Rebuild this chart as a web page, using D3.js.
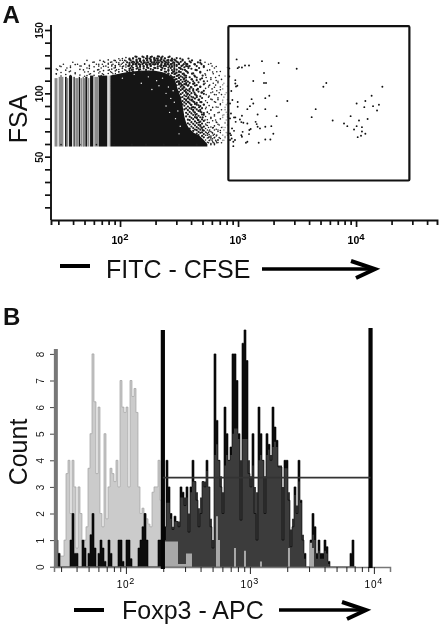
<!DOCTYPE html>
<html>
<head>
<meta charset="utf-8">
<script src="https://cdn.jsdelivr.net/npm/d3@7"></script>
<style>
    body { margin: 0; background: #fff; }
    svg { display: block; font-family: "Liberation Sans", Arial, sans-serif; filter: blur(0.35px); }
</style>
</head>
<body>
<svg id="chart" width="441" height="628"></svg>
<script>
// panel A: the solid cloud, log10(FITC) against FSA
const coreLog = [1.918, 2.085, 2.25, 2.34, 2.42, 2.466, 2.49, 2.525, 2.55, 2.6, 2.68, 2.74];
const coreTop = [114, 117, 118, 117, 114, 110, 103, 93, 80, 71, 66, 60];
const coreBottom = 58;

// panel A: single channels at the low end of the cloud (log10 from, log10 to, grey or black)
const stripeFrom = [1.445, 1.48, 1.534, 1.548, 1.568, 1.599, 1.612, 1.621, 1.65, 1.664, 1.684, 1.691, 1.706, 1.729, 1.746, 1.782, 1.819, 1.901];
const stripeTo = [1.47, 1.52, 1.548, 1.562, 1.593, 1.61, 1.618, 1.647, 1.661, 1.678, 1.691, 1.703, 1.723, 1.74, 1.774, 1.816, 1.892, 1.918];
const stripeTone = ["g", "g", "k", "g", "k", "g", "k", "g", "k", "g", "k", "g", "k", "g", "k", "g", "k", "l"];
const stripeTop = [112, 113, 113, 112, 114, 113, 113, 112, 113, 112, 113, 112, 113, 112, 114, 113, 114, 114];

// panel A: scattered events round the cloud, one FSA row with its log10(FITC) readings
const fringeFsa = [129, 127.5, 126, 124.5, 123, 121.5, 120, 118.5, 117, 115.5, 114, 112.5, 111, 109.5, 108, 106.5, 105, 103.5, 102, 100.5, 99, 97, 95, 93, 91, 89, 87, 85, 83, 81, 79, 77, 75, 73, 71, 69, 67, 65, 63, 61, 59.5];
const fringeLog = [
    [2.13, 2.19, 2.27, 2.33, 2.36, 2.42],
    [2.02, 2.08, 2.11, 2.16, 2.22, 2.25, 2.29, 2.31, 2.35, 2.38, 2.44, 2.51, 2.58],
    [1.72, 1.83, 1.95, 2.0, 2.04, 2.09, 2.14, 2.17, 2.2, 2.23, 2.26, 2.3, 2.32, 2.34, 2.37, 2.4, 2.43, 2.47, 2.53, 2.61, 2.68],
    [1.6, 1.77, 1.87, 1.92, 1.97, 2.03, 2.06, 2.1, 2.12, 2.15, 2.18, 2.21, 2.24, 2.27, 2.29, 2.31, 2.33, 2.36, 2.39, 2.41, 2.45, 2.49, 2.55, 2.6, 2.66, 2.72],
    [1.52, 1.64, 1.7, 1.8, 1.85, 1.9, 1.94, 1.99, 2.01, 2.05, 2.08, 2.11, 2.13, 2.16, 2.19, 2.22, 2.25, 2.28, 2.3, 2.32, 2.35, 2.38, 2.4, 2.43, 2.46, 2.5, 2.54, 2.57, 2.63, 2.69, 2.75],
    [1.49, 1.58, 1.67, 1.74, 1.82, 1.88, 1.93, 1.96, 2.0, 2.03, 2.07, 2.1, 2.14, 2.17, 2.2, 2.23, 2.26, 2.34, 2.37, 2.39, 2.42, 2.44, 2.48, 2.52, 2.56, 2.59, 2.65, 2.71, 2.78],
    [1.55, 1.72, 1.84, 1.95, 2.02, 2.09, 2.15, 2.24, 2.3, 2.36, 2.43, 2.51, 2.58, 2.67, 2.8],
    [1.47, 1.69, 1.81, 1.91, 1.97, 2.04, 2.1, 2.16, 2.22, 2.28, 2.35, 2.41, 2.46, 2.55, 2.64, 2.76],
    [1.57, 1.73, 1.83, 1.92, 1.99, 2.06, 2.11, 2.18, 2.24, 2.39, 2.45, 2.5, 2.57, 2.68, 2.82],
    [1.46, 1.62, 1.75, 1.85, 1.94, 2.02, 2.41, 2.47, 2.54, 2.61, 2.72, 2.79],
    [1.58, 1.72, 1.84, 2.43, 2.49, 2.55, 2.63, 2.7, 2.84],
    [2.45, 2.5, 2.56, 2.65, 2.73, 2.81],
    [2.47, 2.54, 2.61, 2.68, 2.77, 2.86],
    [2.49, 2.55, 2.62, 2.71, 2.83],
    [2.5, 2.56, 2.63, 2.72, 2.79, 2.88],
    [2.52, 2.58, 2.65, 2.76, 2.81],
    [2.54, 2.6, 2.68, 2.75, 2.85],
    [2.53, 2.59, 2.66, 2.78, 2.87],
    [2.55, 2.62, 2.71, 2.82],
    [2.56, 2.63, 2.69, 2.77, 2.84, 2.9],
    [2.57, 2.64, 2.73, 2.8, 2.86],
    [2.58, 2.65, 2.75, 2.88],
    [2.56, 2.61, 2.67, 2.78, 2.83, 2.91],
    [2.58, 2.63, 2.69, 2.81, 2.87],
    [2.6, 2.65, 2.71, 2.85, 2.9],
    [2.61, 2.67, 2.73, 2.83, 2.89],
    [2.62, 2.68, 2.77, 2.86, 2.92],
    [2.63, 2.69, 2.74, 2.84, 2.9],
    [2.64, 2.71, 2.8, 2.88, 2.91],
    [2.65, 2.7, 2.77, 2.87, 2.92],
    [2.66, 2.72, 2.81, 2.9],
    [2.67, 2.74, 2.82, 2.89],
    [2.68, 2.73, 2.84, 2.91],
    [2.69, 2.75, 2.79, 2.86, 2.89],
    [2.7, 2.76, 2.8, 2.83, 2.88],
    [2.73, 2.75, 2.78, 2.85, 2.9],
    [2.74, 2.79, 2.82, 2.87, 2.91],
    [2.75, 2.77, 2.8, 2.84, 2.89],
    [2.76, 2.78, 2.81, 2.83, 2.88],
    [2.75, 2.79, 2.82, 2.86],
    [1.5, 1.66, 1.8, 1.95, 2.1, 2.22, 2.37, 2.5, 2.65, 2.77, 2.8]
];

const columnLog = [1.46, 1.5, 1.54, 1.58, 1.62, 1.66, 1.7, 1.74, 1.78, 1.82, 1.86, 1.9, 1.93, 1.96, 1.99, 2.02, 2.05, 2.08, 2.11, 2.14, 2.17, 2.2, 2.23, 2.26, 2.29, 2.32, 2.35, 2.38, 2.41, 2.44, 2.46, 2.48, 2.5, 2.515, 2.53, 2.545, 2.56, 2.575, 2.59, 2.605, 2.62, 2.635, 2.65, 2.665, 2.68, 2.695, 2.71, 2.725, 2.74, 2.755, 2.77, 2.785, 2.8, 2.815, 2.83, 2.85, 2.87, 2.89, 2.91];
const columnFsa = [
    [115.3, 119.2],
    [113.7, 116.4, 121.1],
    [114.9, 118.3],
    [113.2, 117.6, 120.4],
    [116.2, 122.7],
    [114.4, 118.9, 121.6],
    [113.5, 116.8, 123.4],
    [115.1, 119.7, 122.2],
    [114.2, 117.3, 120.9, 124.6],
    [113.6, 116.1, 118.7, 122.9],
    [114.8, 117.9, 121.3, 125.2],
    [115.7, 118.2, 120.6, 123.8, 126.4],
    [116.4, 119.1, 122.3, 124.7],
    [115.6, 117.7, 120.3, 121.9, 125.8],
    [116.9, 118.8, 122.8, 124.2, 127.3],
    [117.4, 119.6, 121.2, 123.7, 126.1],
    [118.1, 120.7, 122.4, 125.6, 128.2],
    [117.8, 119.3, 121.8, 124.1, 126.8],
    [118.6, 120.2, 122.9, 125.1, 127.6],
    [119.4, 121.4, 123.2, 124.8, 126.6, 128.8],
    [118.9, 120.8, 122.6, 125.4, 127.2],
    [119.7, 121.1, 123.9, 125.7, 128.4],
    [120.4, 122.2, 124.3, 126.2, 127.9, 129.3],
    [119.2, 121.7, 123.1, 125.3, 126.9, 128.6],
    [120.1, 122.7, 124.6, 126.4, 128.1],
    [119.8, 121.3, 123.6, 125.9, 127.4, 129.1],
    [118.6, 120.6, 122.1, 124.9, 126.7, 128.3],
    [117.2, 119.4, 121.9, 123.4, 125.2, 127.7],
    [115.3, 117.8, 120.3, 122.8, 124.4, 126.3, 128.5],
    [113.1, 115.9, 118.4, 120.9, 123.3, 125.8, 127.1],
    [110.6, 112.8, 115.2, 117.1, 119.9, 121.6, 124.2, 126.6],
    [106.4, 108.9, 111.3, 113.7, 116.3, 118.7, 122.4, 125.1, 127.8],
    [101.2, 103.8, 106.9, 109.4, 112.1, 114.6, 117.4, 120.2, 123.7],
    [96.7, 99.3, 102.6, 105.2, 107.8, 110.7, 113.4, 116.8, 119.3, 124.9],
    [91.3, 93.9, 97.1, 100.4, 103.7, 106.3, 109.1, 112.6, 115.4, 118.8, 122.1, 126.7],
    [87.4, 90.2, 92.8, 95.6, 98.4, 101.9, 104.6, 107.2, 111.8, 114.3, 120.6],
    [81.8, 84.6, 88.1, 91.7, 94.3, 97.7, 100.8, 103.2, 106.8, 110.2, 113.9, 117.6, 123.2],
    [76.3, 79.2, 83.4, 86.7, 89.6, 93.2, 96.1, 99.8, 102.4, 105.9, 109.3, 116.2, 121.4],
    [72.1, 75.4, 78.8, 81.6, 85.3, 88.4, 92.1, 95.2, 98.7, 101.6, 108.2, 112.7, 125.3],
    [73.8, 77.2, 80.7, 84.1, 87.6, 90.9, 94.4, 97.3, 100.1, 104.7, 111.1, 119.4],
    [70.3, 72.6, 75.9, 79.6, 82.9, 86.2, 89.1, 93.6, 96.8, 103.3, 107.4, 115.7],
    [71.4, 74.7, 77.8, 81.2, 84.8, 88.7, 91.6, 95.9, 99.2, 106.1, 113.2, 122.8],
    [68.2, 70.9, 73.3, 76.6, 80.4, 83.7, 87.3, 92.4, 98.1, 102.7, 110.4, 118.3],
    [67.1, 69.6, 72.4, 75.1, 78.9, 82.3, 86.1, 90.6, 94.8, 101.4, 108.7],
    [68.8, 71.3, 74.2, 77.6, 81.1, 85.7, 89.9, 93.1, 97.6, 105.3, 116.4, 124.1],
    [66.4, 69.2, 72.8, 76.1, 79.4, 83.2, 88.3, 96.3, 100.7, 111.9],
    [65.3, 67.8, 70.6, 73.7, 78.2, 84.4, 91.2, 99.6, 107.1, 120.7],
    [63.2, 66.9, 69.4, 72.2, 75.8, 81.7, 87.8, 94.1, 103.9, 114.4],
    [61.4, 64.7, 68.3, 71.1, 74.6, 79.1, 85.2, 92.7, 109.6, 118.1],
    [62.7, 65.6, 67.4, 70.2, 76.9, 83.9, 90.3, 97.8, 106.2],
    [60.3, 63.9, 66.2, 69.8, 73.4, 80.2, 86.6, 95.4, 112.3, 123.6],
    [61.8, 64.2, 68.6, 72.7, 78.4, 88.9, 101.1, 116.8],
    [60.6, 65.1, 67.7, 74.3, 82.1, 93.4, 104.8],
    [62.2, 66.3, 71.6, 77.3, 89.2, 98.9, 110.1, 121.2],
    [61.1, 63.4, 69.9, 75.6, 84.7, 96.4, 108.3],
    [64.4, 70.7, 79.8, 91.8, 102.8, 117.2],
    [62.9, 73.1, 82.6, 94.6, 106.7],
    [65.8, 76.4, 87.1, 99.1, 113.6],
    [68.7, 81.4, 92.2, 105.6, 120.3]
];

// panel A: specks left open inside the cloud
const gapLog = [1.95, 2.02, 2.12, 2.18, 2.24, 2.27, 2.31, 2.33, 2.36, 2.39, 2.41, 2.43, 2.45, 2.39, 2.42, 2.46, 2.47, 2.49, 2.51, 2.5];
const gapFsa = [116, 112, 115, 108, 113, 103, 110, 106, 112, 100, 105, 96, 102, 90, 85, 93, 80, 86, 74, 68];

// panel A: events inside the gate
const gatedLog = [2.988, 3.203, 3.344, 3.497, 3.22, 3.059, 3.093, 3.033, 3.008, 2.997, 2.926, 2.926, 2.977, 2.977, 2.994, 2.983, 3.129, 3.22, 3.237, 2.943, 3.265, 3.231, 3.723, 3.748, 4.223, 4.132, 3.418, 4.079, 4.005, 4.194, 4.144, 4.07, 4.178, 3.658, 3.231, 3.115, 3.129, 3.101, 3.079, 2.952, 2.932, 2.997, 2.997, 3.166, 3.327, 3.624, 3.802, 3.954, 4.025, 4.098, 3.898, 3.926, 4.005, 4.05, 3.983, 4.05, 4.079, 4.042, 4.014, 3.282, 3.299, 3.274, 3.231, 3.175, 3.079, 3.067, 3.039, 3.028, 3.033, 3.107, 3.096, 3.093, 3.149, 3.158, 3.166, 3.186, 3.231, 3.033, 3.016, 3.028, 3.045, 3.079, 2.977, 2.966, 2.98, 2.94, 2.932, 2.949, 2.966, 2.932, 2.94, 2.974, 2.96, 2.96, 2.932, 2.946];
const gatedFsa = [126.8, 125.4, 123.9, 119.4, 116, 122, 122, 120.4, 120.7, 119.9, 119.7, 113.3, 110.4, 107.8, 106, 105.4, 109.7, 108.1, 108.1, 101.8, 98.1, 96.2, 105.2, 108.1, 105.2, 98.1, 93.9, 93.9, 92, 91, 89.9, 89.1, 86.5, 87.5, 87.5, 95.4, 92, 89.9, 87.5, 94.7, 92, 93.1, 89.4, 83.3, 82, 81.2, 78.6, 82, 78.6, 79.7, 76.2, 74.1, 74.1, 73.3, 71.5, 69.9, 68.1, 66.5, 65.4, 74.1, 68.1, 63.6, 63.6, 61, 61.8, 61, 69.6, 67, 65.7, 71.8, 71, 67.8, 77.5, 75.7, 73.6, 72.3, 73.6, 82.3, 79.4, 77.3, 76.8, 76.2, 81, 81, 77.5, 84.1, 80.2, 72.3, 70.4, 68.3, 67, 63.1, 61.8, 58.3, 63.1, 64.4];

// gate corners in data units
const gateLogA = [2.918, 4.452];
const gateFsaA = [31.2, 153];

// panel B: counts per channel, channels start at log10 1.42
const lightCounts = [0, 0, 0.5, 0.4, 0.4, 1, 3.5, 4, 2, 4, 3, 0.7, 3, 2, 0.9, 1, 1.5, 3.7, 5, 8, 6.2, 3.5, 6, 2, 1.5, 5, 1.8, 3, 3.7, 3.5, 3.2, 4, 3, 7, 6, 5.8, 6, 3, 7, 6.4, 6.7, 5.8, 3, 2, 2.2, 2, 1.8, 1.6, 1.5, 2.8, 3, 3, 4, 2.5, 2.5,
    0.95, 0.95, 0.95, 0.95, 0.95, 0.95, 0.95, 0.1, 0.1, 0.1, 0.1, 0.5, 0.5, 0.5, 0, 0, 0, 0, 0, 0, 0, 0, 0, 0, 0, 0, 1.9, 1, 0, 0, 0, 0, 0, 0, 0, 0.7, 0, 0, 0, 0, 0.6, 0, 0, 0, 0, 0, 0, 0, 0.2, 0, 0, 0, 0, 0, 0, 0, 0, 0, 0, 0, 0, 0, 0.7, 0, 0, 0, 0, 0, 0, 0, 0, 0, 0, 0.9, 0.7, 0];
const darkCounts = [1, 1, 0.5, 0, 0, 0, 0, 0, 1, 2, 0.5, 0.5, 0, 0, 1, 0.7, 0, 0.5, 1.2, 2, 0.7, 0, 0.5, 1, 0.7, 0.2, 0, 1, 0.5, 0, 0, 0, 1, 1, 0.2, 0, 1, 1, 0.3, 0, 0, 0, 0.7, 1, 1.5, 2, 1, 0, 0, 0, 0, 0, 1, 1, 1,
    1.5, 4, 3, 2, 1.4, 1.9, 1.7, 1.5, 3, 2.8, 2.3, 3, 1.3, 3, 4, 3.2, 2.5, 1.5, 2, 3.2, 3, 4, 3, 1.5, 0.7, 8, 5.5, 4, 3, 2, 6, 5, 4, 4.5, 8, 8, 7, 5, 1.75, 8.4, 8.9, 7.75, 3.5, 3, 5, 2, 1, 6, 5, 4, 2, 5, 4.6, 4, 6, 5.25, 4.75, 3.75, 3.75, 1, 4, 4, 2.5, 0.75, 1.5, 3, 2, 4, 2.5, 1, 0.5, 0, 0, 1, 2, 1.5, 0.5, 1, 0.5, 0.5, 1, 0.75, 0.2, 0, 0, 0, 0, 0, 0, 0, 0, 0, 0, 0.5, 1, 0];
// panel B: the dark hump under the spikes, channels from overlayFrom on
const darkHump = [1, 2.4, 2.4, 1.8, 1.5, 1.7, 1.7, 1.7, 2.6, 2.6, 2.6, 2.6, 2, 2.8, 3.2, 3.2, 2.8, 2.2, 2.6, 3.2, 3.2, 3.6, 3, 1.8, 1, 4.2, 4.6, 4, 3.4, 2.8, 3.8, 4.2, 4, 4.2, 5, 5.2, 5.2, 4.8, 4, 4.8, 4.8, 4.8, 4, 3.4, 3.8, 3, 2.8, 4, 4.2, 4, 3.4, 4.2, 4.4, 4.2, 4.5, 4.7, 4.5, 3.8, 3.8, 3, 3.7, 3.7, 2.8, 1.4, 1.8, 2.7, 2.3, 3.2, 2.4, 1.2, 0.3, 0, 0, 0.6, 1.2, 1, 0.3, 0.6, 0.3, 0.3, 0.6, 0.5, 0.1];
const channelStart = 1.42;
const channelWidth = 0.01613;
const overlayFrom = 55; // light series sits over the dark one past the first gate

// panel B: gates
const gateLogGrey = 1.435;
const gateLogLeft = 2.298;
const gateLogRight = 3.973;
const gateCount = 3.35;

const fsaTicks = d3.range(10, 151, 10);
const fsaLabels = [50, 100, 150];
const countTicks = [0, 1, 2, 3, 4, 5, 6, 7, 8];
const decades = [100, 1000, 10000];
const decadeSup = { 100: "2", 1000: "3", 10000: "4" };

const svg = d3.select("#chart");

// log ticks: 2..9 of each decade, that fall inside the domain
function LogTicks(scale) {
    let d = scale.domain();
    let ticks = [];
    for (let k = 1; k <= 4; k++) {
        for (let m = 1; m <= 9; m++) {
            let v = m * Math.pow(10, k);
            if (v >= 30 && v <= d[1]) ticks.push(v);
        }
    }
    return ticks;
}

function DrawXAxis(scale, yPos, cfg) {
    let g = svg.append("g")
        .attr("transform", "translate(0," + yPos + ")")
        .call(d3.axisBottom(scale).tickValues(LogTicks(scale)).tickSize(cfg.tick).tickFormat(""));
    g.select(".domain").attr("stroke", cfg.color).attr("stroke-width", cfg.width);
    g.selectAll(".tick line").attr("stroke", cfg.tickColor).attr("stroke-width", cfg.tickWidth)
        .attr("y2", d => decades.includes(d) ? cfg.tick + 2 : cfg.tick);

    let labels = svg.append("g").selectAll("text").data(decades.filter(d => d <= scale.domain()[1])).enter()
        .append("text")
        .attr("x", d => scale(d))
        .attr("y", yPos + cfg.labelY)
        .attr("text-anchor", "middle")
        .attr("font-size", cfg.fontSize)
        .attr("font-weight", cfg.weight)
        .attr("letter-spacing", cfg.spacing);
    labels.append("tspan").text("10");
    labels.append("tspan").attr("dy", -4).attr("font-size", cfg.fontSize - 1).text(d => decadeSup[d]);
}

// ---------- panel A ----------
const xA = d3.scaleLog().domain([Math.pow(10, 1.415), Math.pow(10, 4.686)]).range([51, 437]);
const yA = d3.scaleLinear().domain([0, 150]).range([220, 30]);
const logA = v => xA(Math.pow(10, v));

const toneColor = { k: "#151515", g: "#8c8c8c", l: "#c4c4c4" };

svg.append("g").selectAll("rect").data(stripeFrom).enter().append("rect")
    .attr("x", d => logA(d))
    .attr("width", (d, i) => logA(stripeTo[i]) - logA(d))
    .attr("y", (d, i) => yA(stripeTop[i]))
    .attr("height", (d, i) => yA(coreBottom) - yA(stripeTop[i]))
    .attr("fill", (d, i) => toneColor[stripeTone[i]]);

let coreArea = d3.area()
    .curve(d3.curveMonotoneX)
    .x(d => logA(d))
    .y0(yA(coreBottom))
    .y1((d, i) => yA(coreTop[i]));
svg.append("path").datum(coreLog).attr("d", coreArea).attr("fill", "#151515");

let fringe = [];
fringeFsa.forEach((fsa, r) => fringeLog[r].forEach(v => fringe.push([v, fsa])));
columnLog.forEach((v, c) => columnFsa[c].forEach(fsa => fringe.push([v, fsa])));
svg.append("g").selectAll("circle").data(fringe).enter().append("circle")
    .attr("cx", d => logA(d[0]))
    .attr("cy", d => yA(d[1]))
    .attr("r", d => (d[0] > 2.05 && d[0] < 2.72) ? 1.1 : 0.8)
    .attr("fill", d => d[0] > 2.86 ? "#999" : "#1c1c1c");

svg.append("g").selectAll("circle").data(gapLog).enter().append("circle")
    .attr("cx", d => logA(d))
    .attr("cy", (d, i) => yA(gapFsa[i]))
    .attr("r", 0.7)
    .attr("fill", "#fff");

svg.append("g").selectAll("circle").data(gatedLog).enter().append("circle")
    .attr("cx", d => logA(d))
    .attr("cy", (d, i) => yA(gatedFsa[i]))
    .attr("r", 0.95)
    .attr("fill", "#111");

svg.append("rect")
    .attr("x", logA(gateLogA[0]))
    .attr("y", yA(gateFsaA[1]))
    .attr("width", logA(gateLogA[1]) - logA(gateLogA[0]))
    .attr("height", yA(gateFsaA[0]) - yA(gateFsaA[1]))
    .attr("rx", 1)
    .attr("fill", "none")
    .attr("stroke", "#111")
    .attr("stroke-width", 2.2);

let yAxisA = svg.append("g")
    .attr("transform", "translate(51,0)")
    .call(d3.axisLeft(yA).tickValues(fsaTicks).tickSize(6)
        .tickFormat(d => fsaLabels.includes(d) ? d : ""));
yAxisA.select(".domain").attr("d", "M0," + yA(0) + "V25").attr("stroke", "#111").attr("stroke-width", 1.9);
yAxisA.selectAll(".tick line").attr("stroke", "#111").attr("stroke-width", 1.7);
yAxisA.selectAll(".tick text")
    .attr("transform", "rotate(-90)")
    .attr("x", 0).attr("y", -8.5).attr("dy", 0)
    .attr("text-anchor", "middle")
    .attr("font-size", 10).attr("font-weight", "bold").attr("fill", "#111")
    .attr("font-family", "Liberation Sans");

DrawXAxis(xA, 220, {
    tick: 5, color: "#111", width: 1.9, tickColor: "#111", tickWidth: 1.7,
    labelY: 24, fontSize: 10.5, weight: "bold", spacing: 0
});

// ---------- panel B ----------
const xB = d3.scaleLog().domain([Math.pow(10, 1.42), Math.pow(10, 4.13)]).range([54, 390]);
const yB = d3.scaleLinear().domain([0, 8]).range([566.7, 353.9]);
const logB = v => xB(Math.pow(10, v));

function ChannelPath(counts, from, to, offset) {
    let pts = [];
    for (let i = from; i < to; i++) pts.push([channelStart + channelWidth * i, counts[i - offset]]);
    pts.push([channelStart + channelWidth * to, 0]);
    return pts;
}
let stepArea = d3.area().curve(d3.curveStepAfter).x(d => logB(d[0])).y0(yB(0)).y1(d => yB(d[1]));
let stepLine = d3.line().curve(d3.curveStepAfter).x(d => logB(d[0])).y(d => yB(d[1]));

let lightUnder = ChannelPath(lightCounts, 0, overlayFrom, 0);
svg.append("path").datum(lightUnder).attr("d", stepArea).attr("fill", "#cbcbcb");
svg.append("path").datum(lightUnder).attr("d", stepLine).attr("fill", "none").attr("stroke", "#a0a0a0").attr("stroke-width", 0.7);

let darkAll = ChannelPath(darkCounts, 0, darkCounts.length, 0);
svg.append("path").datum(darkAll).attr("d", stepArea).attr("fill", "#0c0c0c");
let hump = ChannelPath(darkHump, overlayFrom, overlayFrom + darkHump.length, overlayFrom);
svg.append("path").datum(hump).attr("d", stepArea).attr("fill", "#3c3c3c");
svg.append("path").datum(darkAll).attr("d", stepLine).attr("fill", "none").attr("stroke", "#000").attr("stroke-width", 0.6);

let lightOver = ChannelPath(lightCounts, overlayFrom, lightCounts.length, 0);
svg.append("path").datum(lightOver).attr("d", stepArea).attr("fill", "#a8a8a8");

DrawXAxis(xB, 567, {
    tick: 5, color: "#777", width: 1.5, tickColor: "#222", tickWidth: 1,
    labelY: 21, fontSize: 10, weight: "normal", spacing: 0.8
});

let yAxisB = svg.append("g")
    .attr("transform", "translate(54,0)")
    .call(d3.axisLeft(yB).tickValues(countTicks).tickSize(4).tickFormat(d3.format("d")));
yAxisB.select(".domain").attr("stroke", "none");
yAxisB.selectAll(".tick line").attr("stroke", "#444");
yAxisB.selectAll(".tick text")
    .attr("transform", "rotate(-90)")
    .attr("x", 0).attr("y", -10.5).attr("dy", 0)
    .attr("text-anchor", "middle")
    .attr("font-size", 10).attr("fill", "#222")
    .attr("font-family", "Liberation Sans");

// gates on top
svg.append("line").attr("x1", logB(gateLogGrey)).attr("x2", logB(gateLogGrey))
    .attr("y1", 349).attr("y2", 568).attr("stroke", "#777").attr("stroke-width", 4);
svg.append("line").attr("x1", logB(gateLogLeft)).attr("x2", logB(gateLogLeft))
    .attr("y1", 330).attr("y2", 569).attr("stroke", "#050505").attr("stroke-width", 4.2);
svg.append("line").attr("x1", logB(gateLogRight)).attr("x2", logB(gateLogRight))
    .attr("y1", 328).attr("y2", 568).attr("stroke", "#050505").attr("stroke-width", 4.2);
svg.append("line").attr("x1", logB(gateLogLeft)).attr("x2", logB(gateLogRight))
    .attr("y1", yB(gateCount)).attr("y2", yB(gateCount)).attr("stroke", "#333").attr("stroke-width", 1.6);

// ---------- text and arrows ----------
function Label(text, x, y, size, weight, rotate) {
    let t = svg.append("text").attr("font-size", size).attr("font-weight", weight).attr("fill", "#111").text(text);
    if (rotate) {
        t.attr("transform", "translate(" + x + "," + y + ") rotate(-90)").attr("text-anchor", "middle");
    } else {
        t.attr("x", x).attr("y", y);
    }
}
Label("A", 2.5, 23, 24, "bold");
Label("B", 3, 325, 24, "bold");
Label("FSA", 27, 119, 25, "normal", true);
Label("Count", 27, 452, 25, "normal", true);
Label("FITC - CFSE", 106, 278, 25, "normal");
Label("Foxp3 - APC", 122, 619, 25, "normal");

function Arrow(x1, x2, y, dashX1, dashX2, dashY) {
    svg.append("line").attr("x1", dashX1).attr("x2", dashX2).attr("y1", dashY).attr("y2", dashY)
        .attr("stroke", "#000").attr("stroke-width", 4);
    svg.append("line").attr("x1", x1).attr("x2", x2 - 2).attr("y1", y).attr("y2", y)
        .attr("stroke", "#000").attr("stroke-width", 3.6);
    svg.append("path")
        .attr("d", "M" + (x2 - 24) + "," + (y - 8) + "L" + x2 + "," + y + "L" + (x2 - 19) + "," + (y + 9))
        .attr("fill", "none").attr("stroke", "#000").attr("stroke-width", 4);
}
Arrow(262, 375, 269, 60, 90, 266);
Arrow(279, 366, 610, 74, 104, 610);
</script>
</body>
</html>
